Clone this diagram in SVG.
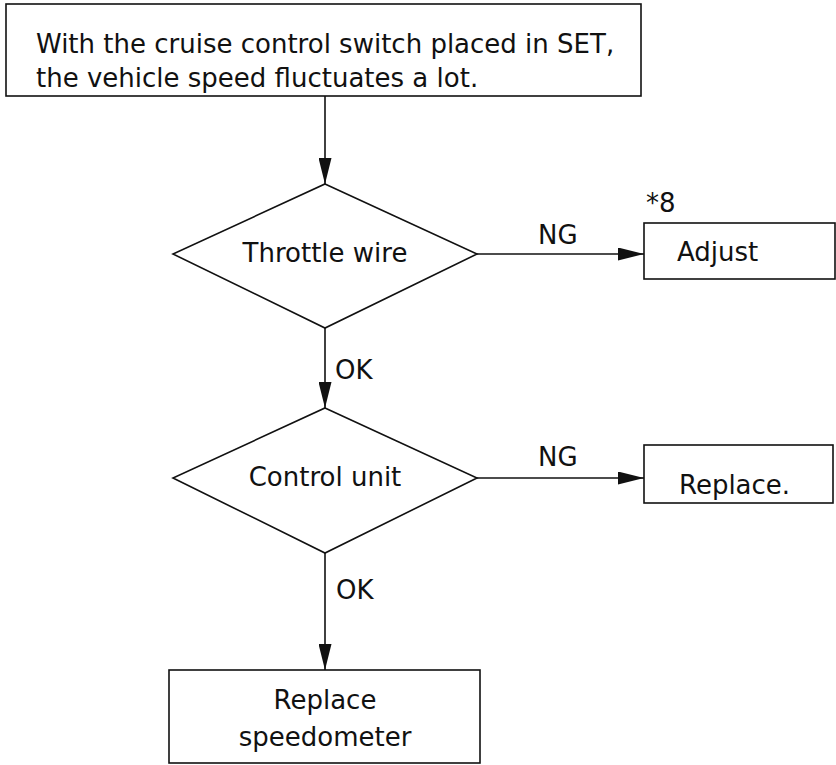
<svg xmlns="http://www.w3.org/2000/svg" width="836" height="765" viewBox="0 0 836 765">
<defs>
<style>
.s{fill:none;stroke:#111;stroke-width:1.6}
.b{fill:#fff;stroke:#111;stroke-width:1.6}
.t{font-family:"DejaVu Sans","Liberation Sans",sans-serif;font-size:26px;fill:#111}
.m{text-anchor:middle}
</style>
<marker id="ah" viewBox="0 0 26 13" refX="26" refY="6.5" markerWidth="26" markerHeight="13" markerUnits="userSpaceOnUse" orient="auto">
<path d="M0,0 L26,6.5 L0,13 Z" fill="#111"/>
</marker>
</defs>
<g id="start">
<rect class="b" x="6" y="4" width="635" height="92"/>
<text class="t" x="36" y="53">With the cruise control switch placed in SET,</text>
<text class="t" x="36" y="87">the vehicle speed fluctuates a lot.</text>
</g>
<g id="throttle">
<polygon class="b" points="325,184 477,254 325,328 173,254"/>
<text class="t m" x="325" y="262">Throttle wire</text>
</g>
<g id="adjust">
<rect class="b" x="644" y="223" width="191" height="56"/>
<text class="t" x="677" y="261">Adjust</text>
<text class="t" x="646" y="212">*8</text>
</g>
<g id="control">
<polygon class="b" points="325,408 477,478 325,553 173,478"/>
<text class="t m" x="325" y="486">Control unit</text>
</g>
<g id="replace">
<rect class="b" x="644" y="445" width="189" height="58"/>
<text class="t" x="679" y="494">Replace.</text>
</g>
<g id="speedo">
<rect class="b" x="169" y="670" width="311" height="93"/>
<text class="t m" x="325" y="709">Replace</text>
<text class="t m" x="325" y="746">speedometer</text>
</g>
<g id="connectors">
<line class="s" x1="325" y1="96" x2="325" y2="184" marker-end="url(#ah)"/>
<line class="s" x1="477" y1="254" x2="644" y2="254" marker-end="url(#ah)"/>
<text class="t" x="538" y="244">NG</text>
<line class="s" x1="325" y1="328" x2="325" y2="408" marker-end="url(#ah)"/>
<text class="t" x="335" y="379">OK</text>
<line class="s" x1="477" y1="478" x2="644" y2="478" marker-end="url(#ah)"/>
<text class="t" x="538" y="466">NG</text>
<line class="s" x1="325" y1="553" x2="325" y2="670" marker-end="url(#ah)"/>
<text class="t" x="336" y="599">OK</text>
</g>
</svg>
